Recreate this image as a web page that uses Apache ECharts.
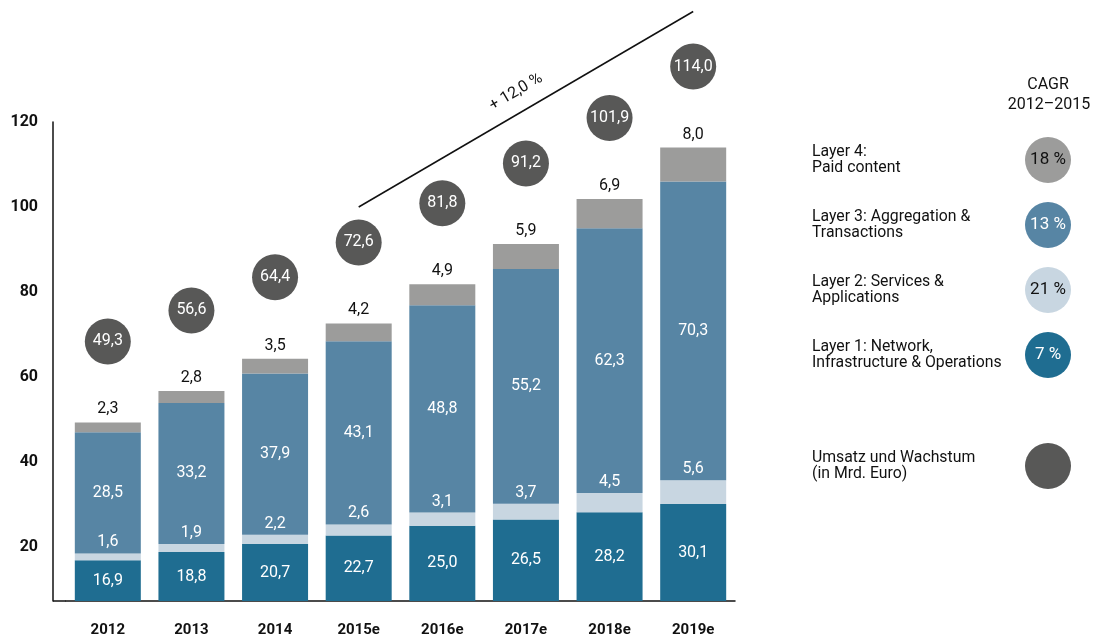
<!DOCTYPE html>
<html><head><meta charset="utf-8">
<script src="https://cdn.jsdelivr.net/npm/echarts@6/dist/echarts.min.js"></script>
<style>html,body{margin:0;padding:0;background:#fff}#c{width:1105px;height:639px}</style>
</head><body><div id="c"></div>
<script>
const years = ['2012','2013','2014','2015e','2016e','2017e','2018e','2019e'];
const layer1 = [16.9, 18.8, 20.7, 22.7, 25.0, 26.5, 28.2, 30.1];
const layer2 = [1.6, 1.9, 2.2, 2.6, 3.1, 3.7, 4.5, 5.6];
const layer3 = [28.5, 33.2, 37.9, 43.1, 48.8, 55.2, 62.3, 70.3];
const layer4 = [2.3, 2.8, 3.5, 4.2, 4.9, 5.9, 6.9, 8.0];
const totals = [49.3, 56.6, 64.4, 72.6, 81.8, 91.2, 101.9, 114.0];
const yTicks = [20, 40, 60, 80, 100, 120];
const yMin = 7.3, yMax = 120;
const cagrLine = [[3, 100], [7, 146]];
const cagrText = '+ 12,0 %';
const legendNames = ['Layer 4:\nPaid content', 'Layer 3: Aggregation &\nTransactions', 'Layer 2: Services &\nApplications', 'Layer 1: Network,\nInfrastructure & Operations', 'Umsatz und Wachstum\n(in Mrd. Euro)'];
const legendCagr = ['18 %', '13 %', '21 %', '7 %', ''];

const C1 = '#1f6d91', C2 = '#c8d6e1', C3 = '#5785a4', C4 = '#9c9c9b', CT = '#585857';
const legendColors = [C4, C3, C2, C1, CT];
const legendTextColors = ['#111', '#fff', '#111', '#fff', '#fff'];
const FONT = 'Roboto';
const fmt = v => Number(v).toFixed(1).replace('.', ',');

const chart = echarts.init(document.getElementById('c'));

const graphics = [];
graphics.push({type:'line', shape:{x1:53, y1:601, x2:66, y2:601}, style:{stroke:'#111', lineWidth:1.5}, silent:true});
graphics.push({type:'text', x:1048, y:85, style:{text:'CAGR', font:'16px Roboto', fill:'#111', align:'center', verticalAlign:'middle'}});
graphics.push({type:'text', x:1049, y:105, style:{text:'2012\u20132015', font:'16px Roboto', fill:'#111', align:'center', verticalAlign:'middle'}});
const legendY = [160, 225, 290, 355, 466];
legendNames.forEach((n, i) => {
  graphics.push({type:'text', x:812, y:legendY[i], style:{text:n, font:'15.8px Roboto', lineHeight:16, fill:'#111', align:'left', verticalAlign:'middle'}});
  graphics.push({type:'circle', shape:{cx:1048, cy:legendY[i], r:23}, style:{fill:legendColors[i]}});
  if (legendCagr[i]) graphics.push({type:'text', x:1048, y:legendY[i], style:{text:legendCagr[i], font:'17px Roboto', fill:legendTextColors[i], align:'center', verticalAlign:'middle'}});
});
graphics.push({type:'text', x:516, y:92, rotation: 30.5*Math.PI/180, style:{text:cagrText, font:'16px Roboto', fill:'#111', align:'center', verticalAlign:'middle'}});

const barBase = {type:'bar', stack:'s', barWidth:66, z:2};
const LS = 16;
chart.setOption({
  animation:false,
  textStyle:{fontFamily:FONT},
  grid:{left:66, right:370, top:122, bottom:38, containLabel:false},
  xAxis:{type:'category', data:years, boundaryGap:true,
    axisLine:{lineStyle:{color:'#111', width:1.5}}, axisTick:{show:false},
    axisLabel:{color:'#111', fontWeight:'bold', fontSize:15, fontFamily:FONT, margin:22}},
  yAxis:{type:'value', min:yMin, max:yMax, offset:13,
    axisLine:{show:true, lineStyle:{color:'#111', width:1.5}}, axisTick:{show:false}, splitLine:{show:false},
    showMinLabel:false,
    axisLabel:{color:'#111', fontWeight:'bold', fontSize:16, fontFamily:FONT, margin:15,
      formatter: v => yTicks.includes(Math.round(v*10)/10) ? String(Math.round(v)) : ''}},
  graphic: graphics,
  series:[
    Object.assign({}, barBase, {name:'Layer 1', data:layer1, itemStyle:{color:C1},
      label:{show:true, position:'inside', color:'#fff', fontSize:LS, formatter:p=>fmt(p.value)}}),
    Object.assign({}, barBase, {name:'Layer 2', data:layer2, itemStyle:{color:C2},
      label:{show:true, position:'top', distance:3, color:'#fff', fontSize:LS, formatter:p=>fmt(p.value)}}),
    Object.assign({}, barBase, {name:'Layer 3', data:layer3, itemStyle:{color:C3},
      label:{show:true, position:'inside', color:'#fff', fontSize:LS, formatter:p=>fmt(p.value)}}),
    Object.assign({}, barBase, {name:'Layer 4', data:layer4, itemStyle:{color:C4},
      label:{show:true, position:'top', distance:5, color:'#111', fontSize:LS, formatter:p=>fmt(p.value)}}),
    {type:'scatter', name:'Umsatz', data:totals, symbol:'circle', symbolSize:46, symbolOffset:[0,-81], z:3,
      itemStyle:{color:CT, opacity:1}, label:{show:true, position:'inside', color:'#fff', fontSize:LS, formatter:p=>fmt(p.value)}},
    {type:'line', name:'CAGR', data:cagrLine, clip:false, symbol:'none', z:3,
      lineStyle:{color:'#111', width:1.5}}
  ]
});
</script></body></html>
